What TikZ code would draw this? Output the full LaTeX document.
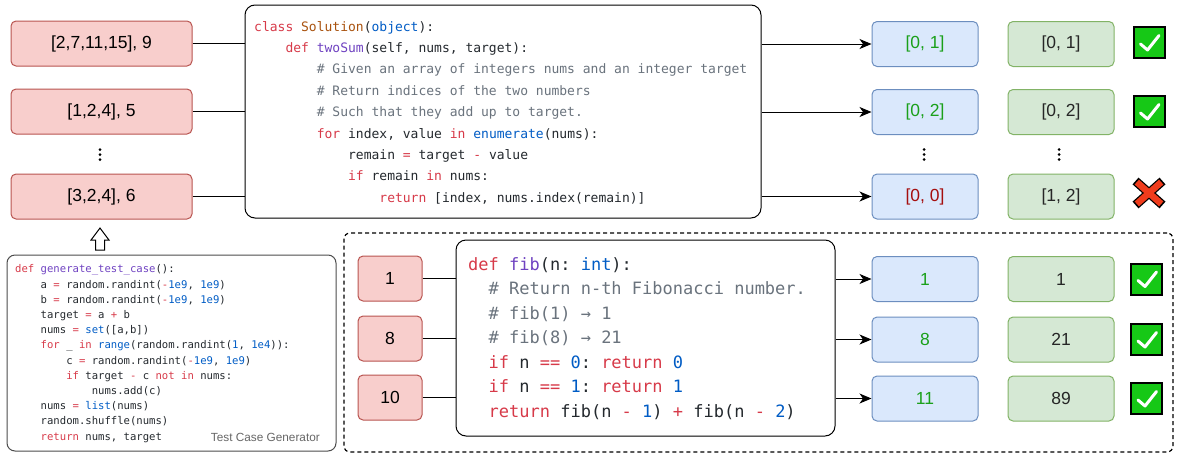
\documentclass[tikz,border=0pt]{standalone}
\usepackage{fontspec}
\setmainfont{Liberation Sans}
\newfontfamily\cf{DejaVu Sans Mono}
\usetikzlibrary{arrows.meta}
\definecolor{kw}{HTML}{D73A49}
\definecolor{fn}{HTML}{6F42C1}
\definecolor{bu}{HTML}{005CC5}
\definecolor{cm}{HTML}{6A737D}
\definecolor{cls}{HTML}{A9530F}
\definecolor{tx}{HTML}{24292E}
\definecolor{rfill}{HTML}{F8CECC}
\definecolor{rdraw}{HTML}{B85450}
\definecolor{bfill}{HTML}{DAE8FC}
\definecolor{bdraw}{HTML}{6C8EBF}
\definecolor{gfill}{HTML}{D5E8D4}
\definecolor{gdraw}{HTML}{82B366}
\definecolor{okgreen}{HTML}{1AA01A}
\definecolor{badred}{HTML}{A50E0E}
\definecolor{chkfill}{HTML}{16C816}
\definecolor{crossred}{HTML}{F03C1C}
\newcommand\Kw[1]{\textcolor{kw}{#1}}
\newcommand\Fn[1]{\textcolor{fn}{#1}}
\newcommand\Bu[1]{\textcolor{bu}{#1}}
\newcommand\Cm[1]{\textcolor{cm}{#1}}
\newcommand\Cl[1]{\textcolor{cls}{#1}}
\frenchspacing
\begin{document}
\begin{tikzpicture}[x=1pt,y=-1pt,
  box/.style={rounded corners=5pt, line width=1pt, inner sep=0pt, minimum height=45pt,
    font=\fontsize{17.5}{20}\selectfont},
  inbox/.style={box, draw=rdraw, fill=rfill, text=black},
  outbox/.style={box, draw=bdraw, fill=bfill, minimum width=106pt},
  gtbox/.style={box, draw=gdraw, fill=gfill, minimum width=106pt, text=black!85},
  codebox/.style={draw=black, line width=1pt, rounded corners=10pt, inner sep=0pt, fill=white},
  cA/.style={anchor=base west, inner sep=0pt, text=tx, font=\cf\fontsize{13}{15}\selectfont\frenchspacing},
  cB/.style={anchor=base west, inner sep=0pt, text=tx, font=\cf\fontsize{17}{20}\selectfont\frenchspacing},
  cG/.style={anchor=base west, inner sep=0pt, text=tx, font=\cf\fontsize{10.6}{12}\selectfont\frenchspacing},
  conn/.style={line width=1pt, draw=black},
  arr/.style={line width=1pt, draw=black, -{Stealth[length=12pt,width=10pt,inset=3.5pt]}},
  chkbox/.style={draw=black, line width=2pt, fill=chkfill, minimum size=31pt, inner sep=0pt},
]
\path[use as bounding box] (0,0) rectangle (1177,453);

% ---------- top part ----------
\node[inbox, minimum width=181pt] (r1) at (101.5,43.5) {[2,7,11,15], 9};
\node[inbox, minimum width=181pt] (r2) at (101.5,111.5) {[1,2,4], 5};
\node[inbox, minimum width=181pt] (r3) at (101.5,196.5) {[3,2,4], 6};
\foreach \yy in {149.5,154.5,159.5} {\fill (100,\yy) circle (1.5pt);}

\node[codebox, minimum width=516pt, minimum height=213pt] (code) at (503,111.5) {};
\node[cA] (t1) at (254,31) {\Kw{class} \Cl{Solution}(\Bu{object}):};
\node[cA] (t2) at (254,52.4) {~~~~\Kw{def} \Fn{twoSum}(self, nums, target):};
\node[cA] (t3) at (254,73.8) {~~~~~~~~\Cm{\# Given an array of integers nums and an integer target}};
\node[cA] (t4) at (254,95.2) {~~~~~~~~\Cm{\# Return indices of the two numbers}};
\node[cA] (t5) at (254,116.6) {~~~~~~~~\Cm{\# Such that they add up to target.}};
\node[cA] (t6) at (254,138) {~~~~~~~~\Kw{for} index, value \Kw{in} \Bu{enumerate}(nums):};
\node[cA] (t7) at (254,159.4) {~~~~~~~~~~~~remain \Kw{=} target \Kw{-} value};
\node[cA] (t8) at (254,180.8) {~~~~~~~~~~~~\Kw{if} remain \Kw{in} nums:};
\node[cA] (t9) at (254,202.2) {~~~~~~~~~~~~~~~~\Kw{return} [index, nums.index(remain)]};

\draw[conn] (r1.east) -- (r1.east -| code.west);
\draw[conn] (r2.east) -- (r2.east -| code.west);
\draw[conn] (r3.east) -- (r3.east -| code.west);

\node[outbox, text=okgreen] (o1) at (925,44) {[0, 1]};
\node[outbox, text=okgreen] (o2) at (925,112) {[0, 2]};
\node[outbox, text=badred] (o3) at (925,196.5) {[0, 0]};
\foreach \yy in {149.5,154.5,159.5} {\fill (924,\yy) circle (1.5pt);}
\node[gtbox] (g1) at (1061,44) {[0, 1]};
\node[gtbox] (g2) at (1061,112) {[0, 2]};
\node[gtbox] (g3) at (1061,196.5) {[1, 2]};
\foreach \yy in {149.5,154.5,159.5} {\fill (1059,\yy) circle (1.5pt);}

\draw[arr] (o1.west -| code.east) -- (o1.west);
\draw[arr] (o2.west -| code.east) -- (o2.west);
\draw[arr] (o3.west -| code.east) -- (o3.west);

\node[chkbox] (k1) at (1149,42.5) {};
\node[chkbox] (k2) at (1149,111.5) {};
\foreach \k in {k1,k2} {
  \draw[white, line width=3pt, line cap=round, line join=round, shift={(\k)}]
    (-8.5,1.5) -- (-1.5,7.5) -- (10,-7);
}
\node[inner sep=0pt, minimum size=30pt] (x1) at (1149,193) {};
\draw[black, line width=9pt] (x1) ++(-13.5,-12) -- ++(27,24);
\draw[black, line width=9pt] (x1) ++(13.5,-12) -- ++(-27,24);
\draw[crossred, line width=6.5pt] (x1) ++(-12.2,-10.9) -- ++(24.4,21.8);
\draw[crossred, line width=6.5pt] (x1) ++(12.2,-10.9) -- ++(-24.4,21.8);

% ---------- generator ----------
\node[draw=black!70, line width=1pt, rounded corners=8pt, minimum width=329pt, minimum height=196pt, inner sep=0pt] (gen) at (171.5,353) {};
\draw[line width=1pt, fill=white] (100,228) -- (109,240) -- (104.5,240) -- (104.5,250) -- (95.5,250) -- (95.5,240) -- (91,240) -- cycle;
\node[cG] (s1) at (15,272.8) {\Kw{def} \Fn{generate\_test\_case}():};
\node[cG] (s2) at (15,288) {~~~~a \Kw{=} random.randint(\Kw{-}\Bu{1e9}, \Bu{1e9})};
\node[cG] (s3) at (15,303.2) {~~~~b \Kw{=} random.randint(\Kw{-}\Bu{1e9}, \Bu{1e9})};
\node[cG] (s4) at (15,318.4) {~~~~target \Kw{=} a \Kw{+} b};
\node[cG] (s5) at (15,333.6) {~~~~nums \Kw{=} \Bu{set}([a,b])};
\node[cG] (s6) at (15,348.8) {~~~~\Kw{for} \_ \Kw{in} \Bu{range}(random.randint(\Bu{1}, \Bu{1e4})):};
\node[cG] (s7) at (15,364) {~~~~~~~~c \Kw{=} random.randint(\Kw{-}\Bu{1e9}, \Bu{1e9})};
\node[cG] (s8) at (15,379.2) {~~~~~~~~\Kw{if} target \Kw{-} c \Kw{not} \Kw{in} nums:};
\node[cG] (s9) at (15,394.4) {~~~~~~~~~~~~nums.add(c)};
\node[cG] (s10) at (15,409.6) {~~~~nums \Kw{=} \Bu{list}(nums)};
\node[cG] (s11) at (15,424.8) {~~~~random.shuffle(nums)};
\node[cG] (s12) at (15,440) {~~~~\Kw{return} nums, target};
\node[anchor=base east, inner sep=0pt, text=black!60, font=\fontsize{11.8}{14}\selectfont] (gl) at (320,441) {Test Case Generator};

% ---------- bottom group ----------
\node[draw=black, dashed, dash pattern=on 4pt off 3pt, line width=1.2pt, rounded corners=6pt, minimum width=829pt, minimum height=219pt, inner sep=0pt] (grp) at (758.5,342.5) {};
\node[inbox, minimum width=64pt] (b1) at (390,278.5) {1};
\node[inbox, minimum width=64pt] (b2) at (390,338.5) {8};
\node[inbox, minimum width=64pt] (b3) at (390,397.5) {10};
\node[codebox, minimum width=379pt, minimum height=196pt] (fib) at (645.5,338) {};
\node[cB] (f1) at (468,270) {\Kw{def} \Fn{fib}(n: \Bu{int}):};
\node[cB] (f2) at (468,294.5) {~~\Cm{\# Return n-th Fibonacci number.}};
\node[cB] (f3) at (468,319) {~~\Cm{\# fib(1) → 1}};
\node[cB] (f4) at (468,343.6) {~~\Cm{\# fib(8) → 21}};
\node[cB] (f5) at (468,368.1) {~~\Kw{if} n \Kw{==} \Bu{0}: \Kw{return} \Bu{0}};
\node[cB] (f6) at (468,392.7) {~~\Kw{if} n \Kw{==} \Bu{1}: \Kw{return} \Bu{1}};
\node[cB] (f7) at (468,417.2) {~~\Kw{return} fib(n \Kw{-} \Bu{1}) \Kw{+} fib(n \Kw{-} \Bu{2})};
\draw[conn] (b1.east) -- (b1.east -| fib.west);
\draw[conn] (b2.east) -- (b2.east -| fib.west);
\draw[conn] (b3.east) -- (b3.east -| fib.west);

\node[outbox, text=okgreen] (p1) at (925,279) {1};
\node[outbox, text=okgreen] (p2) at (925,339.5) {8};
\node[outbox, text=okgreen] (p3) at (925,398.5) {11};
\node[gtbox] (q1) at (1061,279) {1};
\node[gtbox] (q2) at (1061,339.5) {21};
\node[gtbox] (q3) at (1061,398.5) {89};
\draw[arr] (p1.west -| fib.east) -- (p1.west);
\draw[arr] (p2.west -| fib.east) -- (p2.west);
\draw[arr] (p3.west -| fib.east) -- (p3.west);
\node[chkbox] (k3) at (1146.5,279) {};
\node[chkbox] (k4) at (1146.5,339.5) {};
\node[chkbox] (k5) at (1146.5,398.5) {};
\foreach \k in {k3,k4,k5} {
  \draw[white, line width=3pt, line cap=round, line join=round, shift={(\k)}]
    (-8.5,1.5) -- (-1.5,7.5) -- (10,-7);
}
\end{tikzpicture}
\end{document}
